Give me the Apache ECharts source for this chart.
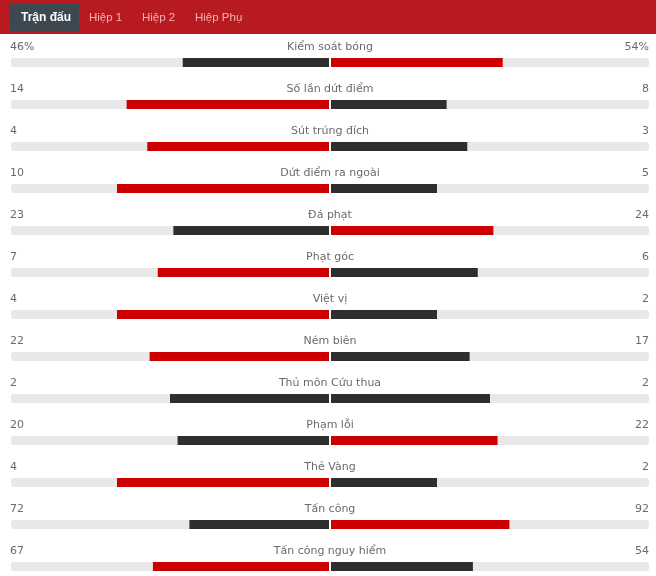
<!DOCTYPE html>
<html>
<head>
<meta charset="utf-8">
<script src="https://cdn.jsdelivr.net/npm/echarts/dist/echarts.min.js"></script>
<style>
html,body{margin:0;padding:0;background:#fff;}
#c{width:656px;height:576px;}
</style>
</head>
<body>
<div id="c"></div>
<script>
// ---- data ----
const categories = ['Kiểm soát bóng','Số lần dứt điểm','Sút trúng đích','Dứt điểm ra ngoài','Đá phạt','Phạt góc','Việt vị','Ném biên','Thủ môn Cứu thua','Phạm lỗi','Thẻ Vàng','Tấn công','Tấn công nguy hiểm'];
const homeValues = [46,14,4,10,23,7,4,22,2,20,4,72,67];
const awayValues = [54,8,3,5,24,6,2,17,2,22,2,92,54];
const valueSuffix = ['%','','','','','','','','','','','',''];
const tabs = ['Trận đấu','Hiệp 1','Hiệp 2','Hiệp Phụ'];

// ---- style ----
const RED = '#cc0000', DARK = '#2e2e2e', TRACK = '#e8e8e8', TXT = '#444444';
const FONT = 'DejaVu Sans';

const homeShare = homeValues.map((v,i)=>{
  const s = v + awayValues[i];
  return {value: s ? v/s : 0, itemStyle:{color: v > awayValues[i] ? RED : DARK}};
});
const awayShare = awayValues.map((v,i)=>{
  const s = v + homeValues[i];
  return {value: s ? v/s : 0, itemStyle:{color: v > homeValues[i] ? RED : DARK}};
});
const ones = categories.map(()=>1);

const chart = echarts.init(document.getElementById('c'), null, {renderer:'canvas'});

const labelBase = {show:true, position:'inside', offset:[0,-15], verticalAlign:'middle', color:TXT, fontFamily:FONT, fontSize:11};

const tabX = [21, 89, 142, 195];
const graphic = [
  {type:'rect', left:0, top:0, shape:{x:0,y:0,width:656,height:34}, style:{fill:'#b81b1f'}, z:0},
  {type:'rect', shape:{x:10,y:4,width:69,height:27}, style:{fill:'#3d4851'}, z:1}
].concat(tabs.map((t,i)=>({
  type:'text', x:tabX[i], y:18, z:2,
  style:{text:t, fill: i===0 ? '#ffffff' : '#f4b1b4', font: (i===0?'bold 12px':'11.5px') + ' "Liberation Sans"', textAlign:'left', textVerticalAlign:'middle'}
})));

const option = {
  animation:false,
  graphic: graphic,
  grid:[
    {left:11, width:318, top:41.5, height:546, outerBoundsMode:'none', containLabel:false},
    {left:331, width:318, top:41.5, height:546, outerBoundsMode:'none', containLabel:false}
  ],
  xAxis:[
    {type:'value', gridIndex:0, min:0, max:1, inverse:true, show:false},
    {type:'value', gridIndex:1, min:0, max:1, show:false}
  ],
  yAxis:[
    {type:'category', gridIndex:0, data:categories, inverse:true, show:false},
    {type:'category', gridIndex:1, data:categories, inverse:true, show:false}
  ],
  series:[
    {type:'bar', xAxisIndex:0, yAxisIndex:0, data:ones, barWidth:9, barGap:'-100%', silent:true,
     itemStyle:{color:TRACK, borderRadius:[3,0,0,3]}},
    {type:'bar', xAxisIndex:0, yAxisIndex:0, data:homeShare, barWidth:9, barGap:'-100%', silent:true},
    {type:'bar', xAxisIndex:1, yAxisIndex:1, data:ones, barWidth:9, barGap:'-100%', silent:true,
     itemStyle:{color:TRACK, borderRadius:[0,3,3,0]}},
    {type:'bar', xAxisIndex:1, yAxisIndex:1, data:awayShare, barWidth:9, barGap:'-100%', silent:true},
    {type:'scatter', xAxisIndex:0, yAxisIndex:0, symbolSize:0, silent:true,
     data: homeValues.map((v,i)=>[1,i]),
     label:Object.assign({}, labelBase, {align:'left', offset:[-1,-15], formatter:p=>homeValues[p.dataIndex]+valueSuffix[p.dataIndex]})},
    {type:'scatter', xAxisIndex:1, yAxisIndex:1, symbolSize:0, silent:true,
     data: awayValues.map((v,i)=>[1,i]),
     label:Object.assign({}, labelBase, {align:'right', formatter:p=>awayValues[p.dataIndex]+valueSuffix[p.dataIndex]})},
    {type:'scatter', xAxisIndex:1, yAxisIndex:1, symbolSize:0, silent:true,
     data: categories.map((c,i)=>[0,i]),
     label:Object.assign({}, labelBase, {align:'center', offset:[-1,-15], formatter:p=>categories[p.dataIndex]})}
  ]
};
chart.setOption(option);
</script>
</body>
</html>
